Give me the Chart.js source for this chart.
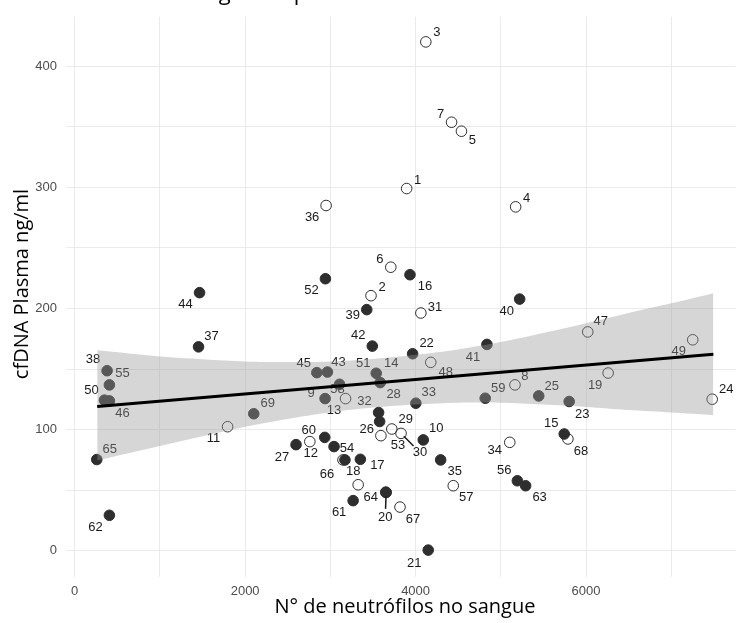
<!DOCTYPE html>
<html lang="pt-BR">
<head>
<meta charset="utf-8">
<script src="https://cdn.jsdelivr.net/npm/chart.js@4.4.1/dist/chart.umd.min.js"></script>
<style>
  html, body { margin: 0; padding: 0; background: #fff; }
  canvas { display: block; }
</style>
</head>
<body>
<canvas id="chartCfdna" width="742" height="623"></canvas>
<script>
// dados (id do paciente, neutrófilos, cfDNA)
const pacientes = Array.from({ length: 69 }, (_, i) => i + 1);

const neutrofilos = [3895, 3477, 4120, 5174, 4538, 3709, 4422, 5166, 2938, 4090,
    1794, 2759, 3043, 3585, 5744, 3934, 3352, 3326, 6259, 3655,
    4148, 3965, 5802, 7480, 5445, 3578, 2597, 3566, 3721, 3829,
    4062, 3178, 4003, 5105, 4294, 2950, 1453, 380, 3427, 5221,
    4837, 3492, 2965, 1465, 2841, 407, 6020, 4178, 7252, 349,
    3538, 2942, 3593, 3171, 407, 5194, 4442, 3108, 4817, 2934,
    3267, 407, 5291, 3650, 259, 3148, 3817, 5787, 2101];

const cfdna = [298.9, 210.5, 419.9, 283.8, 346.2, 234.0, 353.6, 136.9, 125.6, 91.5,
    102.4, 90.1, 86.0, 138.8, 96.4, 227.8, 75.5, 54.5, 146.7, 48.2,
    0.6, 162.6, 123.2, 125.1, 127.8, 106.7, 87.6, 114.1, 100.5, 96.9,
    196.2, 125.6, 121.8, 89.5, 75.0, 284.9, 168.3, 148.6, 199.0, 207.7,
    170.3, 168.9, 147.5, 213.0, 147.0, 123.7, 180.6, 155.5, 174.1, 124.3,
    146.5, 224.5, 95.0, 75.0, 136.9, 57.8, 53.7, 137.4, 125.9, 93.6,
    41.4, 29.3, 53.7, 48.4, 75.3, 75.0, 36.1, 92.3, 113.1];

// pacientes com círculo vazio
const abertos = [1, 2, 3, 4, 5, 6, 7, 8, 11, 12, 18, 19, 24, 29, 30, 31, 32, 34, 36, 47, 48, 49, 53, 57, 66, 67, 68];

// reta de regressão e faixa de confiança
const retaX = [264, 7494];
const retaY = [119.0, 162.1];
const bandaX = [264, 1000, 2000, 2500, 3000, 3500, 4000, 4500, 5000, 5500, 6000, 6500, 7000, 7494];
const bandaSup = [165.4, 160.4, 156.3, 155.8, 156.3, 158.3, 161.8, 166.2, 172.2, 179.7, 187.7, 196.2, 204.2, 212.6];
const bandaInf = [74.5, 86.4, 102.3, 108.8, 114.3, 118.3, 120.8, 122.2, 122.2, 120.7, 118.7, 116.2, 114.2, 112.1];

const ticksX = [0, 2000, 4000, 6000];
const ticksY = [0, 100, 200, 300, 400];

// deslocamento dos rótulos em px (só estilo)
const deslocRotulo = {
    1: [11, -8], 2: [11, -8], 3: [11, -9], 4: [11, -8], 5: [11, 9], 6: [-11, -8], 7: [-11, -8],
    8: [10, -8], 9: [-14, -5], 10: [13, -11], 11: [-14, 12], 12: [1, 12], 13: [0, -36],
    14: [11, -19], 15: [-13, -11], 16: [15, 12], 17: [17, 6], 18: [-5, -13], 19: [-13, 12],
    20: [-1, 25], 21: [-14, 13], 22: [14, -10], 23: [13, 13], 24: [14, -10], 25: [13, -10],
    26: [-13, 8], 27: [-14, 13], 28: [15, -18], 29: [14, -10], 30: [19, 19], 31: [14, -6],
    32: [19, 3], 33: [13, -11], 34: [-15, 8], 35: [14, 12], 36: [-14, 12], 37: [13, -10],
    38: [-14, -11], 39: [-14, 6], 40: [-13, 12], 41: [-14, 13], 42: [-14, -11], 43: [11, -10],
    44: [-14, 12], 45: [-13, -9], 46: [13, 13], 47: [13, -11], 48: [15, 10], 49: [-14, 12],
    50: [-13, -10], 51: [-13, -10], 52: [-14, 12], 53: [17, 10], 54: [2, -11], 55: [13, -11],
    56: [-13, -10], 57: [13, 12], 58: [-2, 5], 59: [13, -10], 60: [-16, -7], 61: [-14, 12],
    62: [-14, 12], 63: [14, 12], 64: [-15, 5], 65: [13, -10], 66: [-16, 15], 67: [13, 12],
    68: [13, 12], 69: [14, -10]
};
const comLinha = [20, 30];

const rotulosPlugin = {
    id: 'rotulos',
    afterDatasetDraw(chart, args) {
        if (args.index !== 3) return;
        const ctx = chart.ctx;
        ctx.save();
        ctx.font = '13px "Liberation Sans", Arial, sans-serif';
        ctx.fillStyle = '#1a1a1a';
        ctx.strokeStyle = '#1a1a1a';
        ctx.lineWidth = 1.5;
        ctx.textAlign = 'center';
        ctx.textBaseline = 'middle';
        args.meta.data.forEach((pt, i) => {
            const id = pacientes[i];
            const [dx, dy] = deslocRotulo[id] || [10, -8];
            if (comLinha.includes(id)) {
                const d = Math.hypot(dx, dy);
                ctx.beginPath();
                ctx.moveTo(pt.x + dx / d * 4, pt.y + dy / d * 4);
                ctx.lineTo(pt.x + dx * 0.66, pt.y + dy * 0.66);
                ctx.stroke();
            }
            ctx.fillText(String(id), pt.x + dx, pt.y + dy);
        });
        ctx.restore();
    }
};

const titulosPlugin = {
    id: 'titulos',
    afterDraw(chart) {
        const ctx = chart.ctx;
        ctx.save();
        ctx.fillStyle = '#000';
        ctx.textAlign = 'left';
        ctx.textBaseline = 'alphabetic';
        ctx.font = '22px "Open Sans", sans-serif';
        ctx.fillText('no sangue de pacientes com', 150, 0);

        ctx.font = '20px "Open Sans", sans-serif';
        ctx.textAlign = 'center';
        ctx.textBaseline = 'middle';
        ctx.fillText('N° de neutrófilos no sangue', 405, 607);
        ctx.translate(22, 284);
        ctx.rotate(-Math.PI / 2);
        ctx.fillText('cfDNA Plasma ng/ml', 0, 0);
        ctx.restore();
    }
};

const fonteTick = { family: '"Liberation Sans", Arial, sans-serif', size: 13 };

new Chart(document.getElementById('chartCfdna'), {
    type: 'scatter',
    data: {
        datasets: [
            {
                type: 'line', order: 0,
                data: retaX.map((x, i) => ({ x, y: retaY[i] })),
                borderColor: '#000', borderWidth: 3, pointRadius: 0, fill: false
            },
            {
                type: 'line', order: 1,
                data: bandaX.map((x, i) => ({ x, y: bandaSup[i] })),
                borderWidth: 0, borderColor: 'rgba(0,0,0,0)', pointRadius: 0, tension: 0.3,
                fill: '+1', backgroundColor: 'rgba(153,153,153,0.4)'
            },
            {
                type: 'line', order: 1,
                data: bandaX.map((x, i) => ({ x, y: bandaInf[i] })),
                borderWidth: 0, borderColor: 'rgba(0,0,0,0)', pointRadius: 0, tension: 0.3, fill: false
            },
            {
                order: 2,
                data: neutrofilos.map((x, i) => ({ x, y: cfdna[i] })),
                pointRadius: 5.3,
                pointBorderWidth: 1,
                pointBorderColor: '#2e2e2e',
                pointBackgroundColor: c => abertos.includes(pacientes[c.dataIndex]) ? 'rgba(0,0,0,0)' : '#2e2e2e'
            }
        ]
    },
    options: {
        responsive: false,
        animation: false,
        layout: { padding: { top: 14, right: 0, left: 0, bottom: 0 } },
        plugins: { legend: { display: false }, tooltip: { enabled: false } },
        scales: {
            x: {
                type: 'linear', min: -102, max: 7756,
                afterBuildTicks: s => { s.ticks = [1000, 3000, 5000, 7000].concat(ticksX).sort((a, b) => a - b).map(v => ({ value: v })); },
                afterFit: s => { s.height = 46; },
                border: { display: false },
                grid: { color: '#ebebeb', lineWidth: 1, drawTicks: false },
                ticks: { padding: 7, color: '#4d4d4d', font: fonteTick, maxRotation: 0, autoSkip: false,
                    callback: v => ticksX.includes(v) ? String(v) : '' }
            },
            y: {
                min: -21.6, max: 440.6,
                afterBuildTicks: s => { s.ticks = [0, 50, 100, 150, 200, 250, 300, 350, 400].map(v => ({ value: v })); },
                afterFit: s => { s.width = 66; },
                border: { display: false },
                grid: { color: '#ebebeb', lineWidth: 1, drawTicks: false },
                ticks: { padding: 9, color: '#4d4d4d', font: fonteTick, autoSkip: false,
                    callback: v => ticksY.includes(v) ? String(v) : '' }
            }
        }
    },
    plugins: [rotulosPlugin, titulosPlugin]
});
</script>
</body>
</html>
